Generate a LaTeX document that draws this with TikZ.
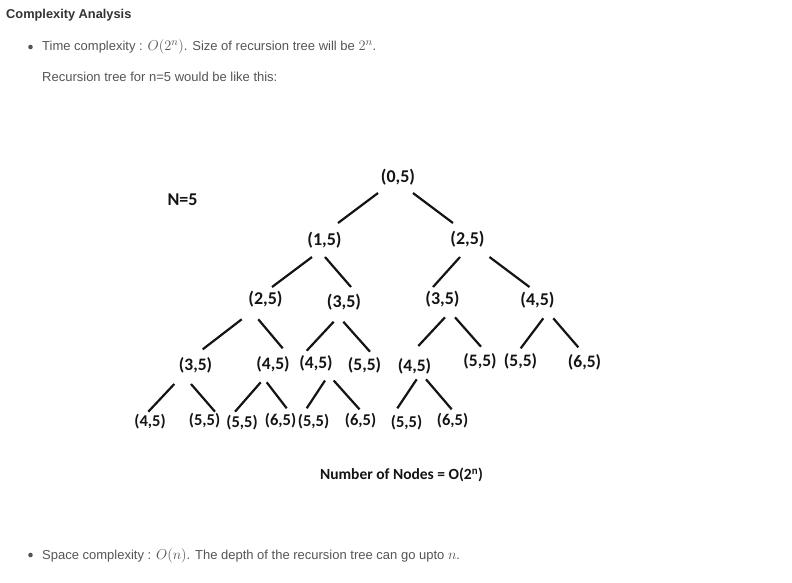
\documentclass[tikz,border=0pt]{standalone}
\usepackage[no-math]{fontspec}
\setmainfont{Liberation Sans}
\newfontfamily\treefont{Carlito}
\definecolor{headc}{HTML}{333333}
\definecolor{bodyc}{HTML}{555555}
\definecolor{inkc}{HTML}{141414}
\newcommand\mth[1]{{\fontsize{15.5}{18}\selectfont$#1$}}
\newcommand\conn[6]{\draw[edge] ([shift={(#2,#3)}]#1.center) -- ([shift={(#5,#6)}]#4.center);}
\begin{document}
\begin{tikzpicture}[x=1pt,y=-1pt,
  heading/.style={anchor=base west,inner sep=0pt,text=headc,font=\fontsize{12.8}{15}\selectfont\bfseries},
  bodytext/.style={anchor=base west,inner sep=0pt,text=bodyc,font=\fontsize{13}{16}\selectfont},
  dotmark/.style={circle,fill=bodyc,inner sep=0pt,minimum size=4.6pt},
  tn/.style={inner sep=0pt,text=inkc,font=\treefont\bfseries\fontsize{18}{20}\selectfont},
  tnb/.style={inner sep=0pt,text=inkc,font=\treefont\bfseries\fontsize{17.5}{20}\selectfont},
  tns/.style={inner sep=0pt,text=inkc,font=\treefont\bfseries\fontsize{16.5}{19}\selectfont},
  edge/.style={draw=inkc,line width=2.2pt}]
\fill[white] (0,0) rectangle (792,582);
\useasboundingbox (0,0) rectangle (792,582);
% header
\node[heading] (title) at (6,18.3) {Complexity Analysis};
\node[dotmark] (bul1) at (30.5,47) {};
\node[bodytext] (time) at (42,50.7) {Time complexity : \mth{O(2^n)}. Size of recursion tree will be \mth{2^n}.};
\node[bodytext] (rec) at (42,81.7) {Recursion tree for n=5 would be like this:};
\node[dotmark] (bul2) at (30.5,555) {};
\node[bodytext] (space) at (42,559.3) {Space complexity : \mth{O(n)}. The depth of the recursion tree can go upto \mth{n}.};
% tree
\node[tn] (nlab) at (182.5,200) {N=5};
\node[tn] (r) at (398,177) {(0,5)};
\node[tn] (a) at (324.5,240) {(1,5)};
\node[tn] (b) at (467.5,239.5) {(2,5)};
\node[tn] (a1) at (265.5,299.5) {(2,5)};
\node[tn] (a2) at (344,302) {(3,5)};
\node[tn] (b1) at (442.5,299.5) {(3,5)};
\node[tn] (b2) at (537.5,300.5) {(4,5)};
\node[tnb] (c1) at (195.5,365.5) {(3,5)};
\node[tnb] (c2) at (273,364.5) {(4,5)};
\node[tnb] (c3) at (316,363.5) {(4,5)};
\node[tnb] (c4) at (364.5,365) {(5,5)};
\node[tnb] (c5) at (414.5,366.5) {(4,5)};
\node[tnb] (c6) at (480,361.5) {(5,5)};
\node[tnb] (c7) at (520.5,361.5) {(5,5)};
\node[tnb] (c8) at (584.5,362.5) {(6,5)};
\node[tns] (d1) at (150,421.5) {(4,5)};
\node[tns] (d2) at (204.5,420.5) {(5,5)};
\node[tns] (d3) at (242,423) {(5,5)};
\node[tns] (d4) at (280.5,421) {(6,5)};
\node[tns] (d5) at (313.5,421.5) {(5,5)};
\node[tns] (d6) at (360.5,421) {(6,5)};
\node[tns] (d7) at (406.5,422.5) {(5,5)};
\node[tns] (d8) at (452.5,420.5) {(6,5)};
\node[inner sep=0pt,text=inkc,font=\treefont\bfseries\fontsize{15.5}{18}\selectfont] (count) at (401.5,475) {Number of Nodes = O(2\textsuperscript{n})};
% connectors
\conn{r}{-20}{16}{a}{13.5}{-17}
\conn{r}{15}{16}{b}{-14.5}{-16.5}
\conn{a}{-12.5}{17}{a1}{6.5}{-12.5}
\conn{a}{0.5}{17}{a2}{7}{-15}
\conn{b}{-7.5}{17.5}{b1}{-9.5}{-12.5}
\conn{b}{22}{17.5}{b2}{-8}{-13.5}
\conn{a1}{-23.8}{19.8}{c1}{7.2}{-16.2}
\conn{a1}{-7.2}{19.8}{c2}{9.7}{-16.2}
\conn{a2}{-10.3}{19.7}{c3}{-9.3}{-12.8}
\conn{a2}{-0.7}{19.7}{c4}{5.5}{-13.3}
\conn{b1}{2.5}{17.8}{c5}{3.8}{-20.5}
\conn{b1}{12.5}{17.8}{c6}{1}{-14.8}
\conn{b2}{5.8}{17.8}{c7}{0.2}{-13.2}
\conn{b2}{15.8}{17.8}{c8}{-6.2}{-15.2}
\conn{c1}{-21.2}{18.5}{d1}{-1.7}{-9.8}
\conn{c1}{-4.5}{18.5}{d2}{10.5}{-8.8}
\conn{c2}{-12.3}{17.8}{d3}{-7}{-11.3}
\conn{c2}{-6.3}{17.8}{d4}{6.2}{-12.7}
\conn{c3}{9}{17}{d5}{-6.8}{-13.2}
\conn{c3}{17.7}{17}{d6}{-1}{-11.7}
\conn{c5}{2.2}{12.8}{d7}{-9.2}{-14.2}
\conn{c5}{11.5}{12.8}{d8}{-0.8}{-11.2}
\end{tikzpicture}
\end{document}
